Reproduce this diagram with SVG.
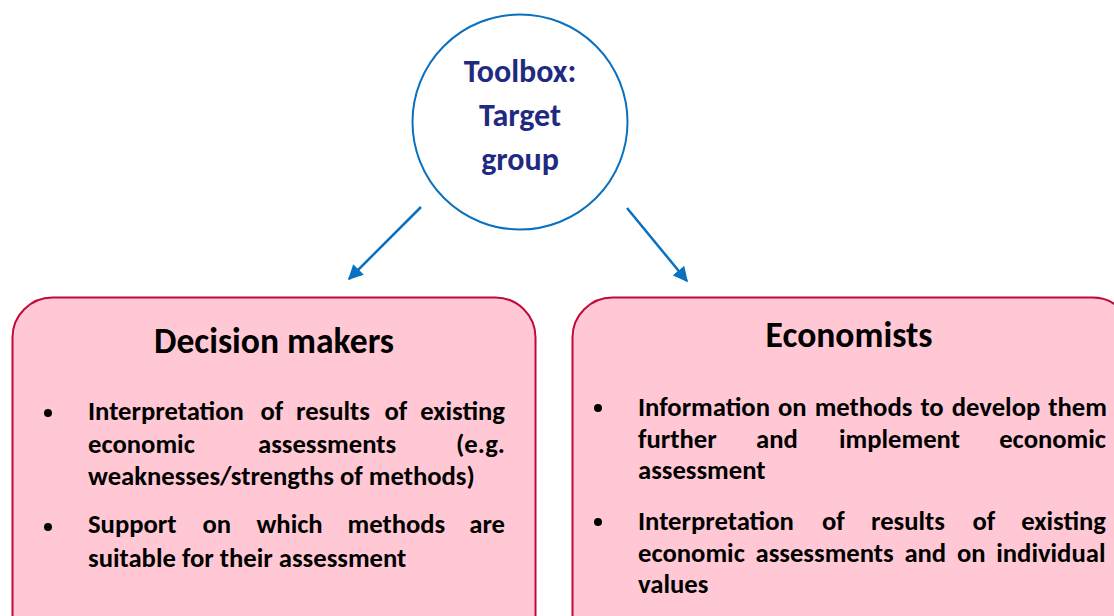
<svg xmlns="http://www.w3.org/2000/svg" width="1114" height="616" viewBox="0 0 1114 616">
<style>
.box{fill:#FFC8D4;stroke:#C00A3C;stroke-width:2}
.title{font-family:Carlito,"Open Sans","Liberation Sans",sans-serif;font-weight:bold;font-size:35.6px;fill:#000;text-anchor:middle}
.t{font-family:Carlito,"Open Sans","Liberation Sans",sans-serif;font-weight:bold;font-size:26.67px;fill:#000}
.e{text-anchor:end}
.hub{font-family:Carlito,"Open Sans","Liberation Sans",sans-serif;font-weight:bold;font-size:32px;fill:#1F2A80;text-anchor:middle}
.conn{stroke:#0A70C0;stroke-width:2.5;fill:none;marker-end:url(#ah)}
</style>
<defs>
<marker id="ah" viewBox="0 0 10 10" refX="9" refY="5" markerWidth="6" markerHeight="6" orient="auto" markerUnits="strokeWidth">
<path d="M0,0 L10,5 L0,10 z" fill="#0A70C0"/>
</marker>
</defs>
<rect width="1114" height="616" fill="#fff"/>
<g id="connectors">
<line class="conn" x1="421" y1="207" x2="349" y2="279"/>
<line class="conn" x1="627" y1="208" x2="687" y2="281"/>
</g>
<g id="hub">
<circle cx="520" cy="122" r="107.5" fill="#fff" stroke="#0A70C0" stroke-width="2"/>
<text class="hub" x="520" y="82">Toolbox:</text>
<text class="hub" x="520" y="126">Target</text>
<text class="hub" x="520" y="170">group</text>
</g>
<g id="decision-makers">
<rect class="box" x="12.5" y="297.5" width="523" height="360" rx="40"/>
<text class="title" x="274" y="352.5">Decision makers</text>
<circle cx="48" cy="413" r="4"/>
<text class="t" x="88" y="420">Interpretation</text>
<text class="t" x="260.5" y="420">of</text>
<text class="t" x="296" y="420">results</text>
<text class="t" x="384.5" y="420">of</text>
<text class="t e" x="505" y="420">existing</text>
<text class="t" x="88" y="452.5">economic</text>
<text class="t" x="258" y="452.5">assessments</text>
<text class="t e" x="505" y="452.5">(e.g.</text>
<text class="t" x="88" y="484.5">weaknesses/strengths of methods)</text>
<circle cx="48" cy="527" r="4"/>
<text class="t" x="88" y="533">Support</text>
<text class="t" x="202.5" y="533">on</text>
<text class="t" x="256.5" y="533">which</text>
<text class="t" x="347.5" y="533">methods</text>
<text class="t e" x="505" y="533">are</text>
<text class="t" x="88" y="566.5">suitable for their assessment</text>
</g>
<g id="economists">
<rect class="box" x="572.5" y="297.5" width="560" height="360" rx="40"/>
<text class="title" x="849" y="347">Economists</text>
<circle cx="598" cy="408" r="4"/>
<text class="t" x="638" y="415.5" word-spacing="2">Information on methods to develop them</text>
<text class="t" x="638" y="447.5">further</text>
<text class="t" x="756" y="447.5">and</text>
<text class="t" x="839" y="447.5">implement</text>
<text class="t e" x="1106" y="447.5">economic</text>
<text class="t" x="638" y="479">assessment</text>
<circle cx="598" cy="522" r="4"/>
<text class="t" x="638" y="529.5">Interpretation</text>
<text class="t" x="822" y="529.5">of</text>
<text class="t" x="871" y="529.5">results</text>
<text class="t" x="972.5" y="529.5">of</text>
<text class="t e" x="1106" y="529.5">existing</text>
<text class="t" x="638" y="561.5" word-spacing="4.7">economic assessments and on individual</text>
<text class="t" x="638" y="593">values</text>
</g>
</svg>
